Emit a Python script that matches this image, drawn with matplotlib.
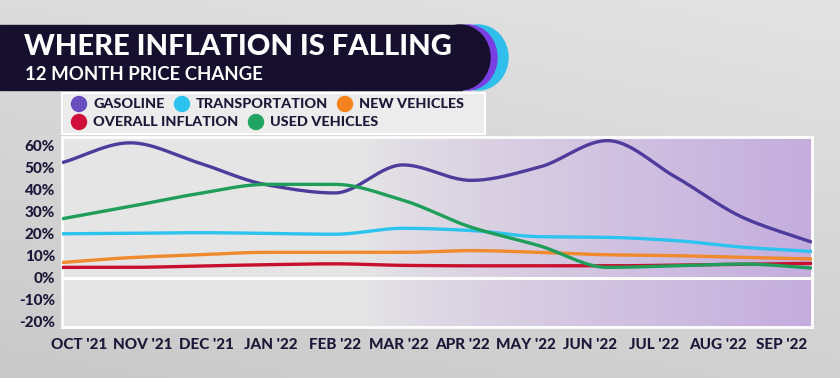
import numpy as np
import matplotlib
matplotlib.use("Agg")
import matplotlib.pyplot as plt
from matplotlib.patches import Rectangle, Ellipse

months = ["OCT '21", "NOV '21", "DEC '21", "JAN '22", "FEB '22", "MAR '22",
          "APR '22", "MAY '22", "JUN '22", "JUL '22", "AUG '22", "SEP '22"]
gasoline = [52, 61, 52, 42, 38.3, 51, 44, 50, 62, 45.5, 27, 16]
transportation = [19.8, 20, 20.3, 20, 19.6, 22.3, 21.3, 18.5, 18.2, 16.7, 13.7, 11.8]
new_vehicles = [6.8, 9, 10.3, 11.4, 11.4, 11.4, 12.2, 11.4, 10.3, 9.9, 9.1, 8.4]
overall_inflation = [4.6, 4.6, 5.2, 5.8, 6.2, 5.5, 5.3, 5.3, 5.3, 5.6, 6.0, 6.4]
used_vehicles = [26.6, 32.2, 38, 42.2, 42.2, 35, 22.8, 14.4, 4.6, 5.3, 6.1, 4.3]
yticks = [60, 50, 40, 30, 20, 10, 0, -10, -20]

series = [
    ("GASOLINE", gasoline, "#4e3b9c", "#6a4fc0"),
    ("TRANSPORTATION", transportation, "#2cc3ef", "#2cc3ef"),
    ("NEW VEHICLES", new_vehicles, "#f08a2c", "#f5821f"),
    ("OVERALL INFLATION", overall_inflation, "#c8102e", "#d0103a"),
    ("USED VEHICLES", used_vehicles, "#1f9e5a", "#1fa463"),
]

NAVY = "#1c1838"
FONT = "Lato"


def monotone(x, y, n=30):
    x = np.asarray(x, float)
    y = np.asarray(y, float)
    h = np.diff(x)
    d = np.diff(y) / h
    m = np.zeros_like(y)
    m[0], m[-1] = d[0], d[-1]
    for i in range(1, len(y) - 1):
        if d[i - 1] * d[i] <= 0:
            m[i] = 0
        else:
            w1 = 2 * h[i] + h[i - 1]
            w2 = h[i] + 2 * h[i - 1]
            m[i] = (w1 + w2) / (w1 / d[i - 1] + w2 / d[i])
    xs, ys = [], []
    for i in range(len(x) - 1):
        t = np.linspace(0, 1, n, endpoint=False)
        h00 = 2 * t**3 - 3 * t**2 + 1
        h10 = t**3 - 2 * t**2 + t
        h01 = -2 * t**3 + 3 * t**2
        h11 = t**3 - t**2
        xs.append(x[i] + t * h[i])
        ys.append(h00 * y[i] + h10 * h[i] * m[i] + h01 * y[i + 1] + h11 * h[i] * m[i + 1])
    xs.append([x[-1]])
    ys.append([y[-1]])
    return np.concatenate(xs), np.concatenate(ys)


fig = plt.figure(figsize=(8.4, 3.78), dpi=100)
W, H = 840, 378

# figure background gradient
bg = fig.add_axes([0, 0, 1, 1], zorder=-10)
gx = np.linspace(0, 1, 200)
gy = np.linspace(0, 1, 100)
GX, GY = np.meshgrid(gx, gy)
val = 0.79 + 0.07 * GY + 0.03 * GX
bg.imshow(np.dstack([val, val, val]), extent=[0, 1, 0, 1], aspect="auto", origin="lower")
bg.set_xlim(0, 1)
bg.set_ylim(0, 1)
bg.axis("off")


def fx(px):
    return px / W


def fy(py):
    return 1 - py / H


# title bar
cy = (25 + 90) / 2
hh = 90 - 25
bg.add_patch(Ellipse((fx(478), fy(cy)), 60 / W, hh / H, color="#2fbfea", zorder=1))
bg.add_patch(Ellipse((fx(468), fy(cy)), 58 / W, hh / H, color="#7a3fe0", zorder=2))
bg.add_patch(Rectangle((0, fy(90)), fx(462), hh / H, color="#160f2e", zorder=3))
bg.add_patch(Ellipse((fx(460), fy(cy)), 60 / W, hh / H, color="#160f2e", zorder=3))
bg.text(fx(24), fy(47), "WHERE INFLATION IS FALLING", color="white", fontsize=21,
        fontweight="black", family=FONT, va="center", ha="left", zorder=5)
bg.text(fx(25), fy(74), "12 MONTH PRICE CHANGE", color="white", fontsize=13.4,
        fontweight="bold", family=FONT, va="center", ha="left", zorder=5)

# legend box
bg.add_patch(Rectangle((fx(62), fy(134)), (485 - 62) / W, (134 - 93) / H,
                       facecolor="#ececec", edgecolor="white", lw=1.5, zorder=3))
leg_pos = [(79, 104), (182, 104), (345, 104), (79, 122), (256, 122)]
for (name, _, _, dot), (px, py) in zip(series, leg_pos):
    bg.add_patch(Ellipse((fx(px), fy(py)), 15 / W, 15 / H, color=dot, zorder=4))
    bg.text(fx(px + 14), fy(py), name, color=NAVY, fontsize=10.4, fontweight="black",
            family=FONT, va="center", ha="left", zorder=5)

# plot axes
left, right, top, bottom = 62, 812, 136.7, 326.7
ax = fig.add_axes([fx(left), fy(bottom), (right - left) / W, (bottom - top) / H])
ymax = 60 + (145 - 136.7) / 21.95 * 10
ymin = -20 - (326.7 - 321.7) / 21.95 * 10
n = len(months)
ax.set_xlim(0, n - 1)
ax.set_ylim(ymin, ymax)

# axes background gradient (gray -> purple)
t = np.linspace(0, 1, 400)
w = np.clip((t - 0.4) / 0.6, 0, 1) ** 0.8
c0 = np.array([0.90, 0.90, 0.90])
c1 = np.array([0.77, 0.68, 0.87])
grad = c0[None, :] * (1 - w[:, None]) + c1[None, :] * w[:, None]
ax.imshow(grad[None, :, :], extent=[0, n - 1, ymin, ymax], aspect="auto", zorder=0)

ax.axhline(0, color="white", lw=2.2, zorder=1)
x = np.arange(n)
for name, vals, lc, _ in series:
    xs, ys = monotone(x, vals)
    ax.plot(xs, ys, color=lc, lw=2.4, zorder=3, solid_capstyle="butt")

for s in ax.spines.values():
    s.set_color("white")
    s.set_linewidth(2)

ax.set_yticks(yticks)
ax.set_yticklabels([f"{v}%" for v in yticks], fontsize=11, fontweight="black",
                   family=FONT, color=NAVY)
tick_x = [0.25 + i * 0.937 for i in range(n)]
ax.set_xticks(tick_x)
ax.set_xticklabels(months, fontsize=11, fontweight="black", family=FONT, color=NAVY)
ax.tick_params(length=0, pad=5)
ax.tick_params(axis="x", pad=8)

fig.savefig("out.png", dpi=100)
